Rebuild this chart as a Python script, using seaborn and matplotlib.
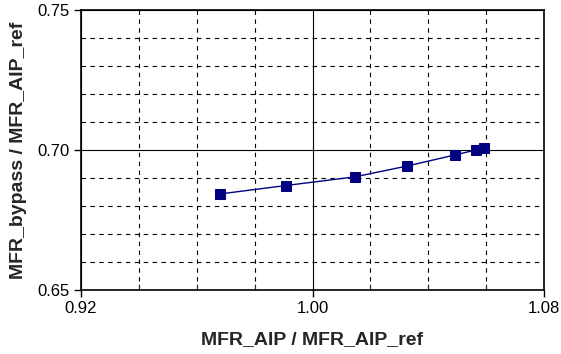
import matplotlib
matplotlib.use("Agg")
import matplotlib.pyplot as plt
import seaborn as sns
import pandas as pd
from matplotlib.ticker import MultipleLocator

x_vals = [0.968, 0.9907, 1.0146, 1.0328, 1.0491, 1.0564, 1.0591]
y_vals = [0.6843, 0.6873, 0.6904, 0.6943, 0.6982, 0.7000, 0.7006]
x_ticks = [0.92, 1.00, 1.08]
y_ticks = [0.65, 0.70, 0.75]

sns.set_style("white")
plt.rcParams['font.family'] = ['Liberation Sans', 'DejaVu Sans']

df = pd.DataFrame({"x": x_vals, "y": y_vals})
fig = plt.figure(figsize=(5.61, 3.54), dpi=100)
ax = fig.add_axes([81/561, 1 - 290/354, 463/561, 280/354])
sns.lineplot(data=df, x="x", y="y", ax=ax, color="#000080", linewidth=1.0,
             marker="s", markersize=7.5, markeredgecolor="#000080", sort=False)

ax.set_xlim(0.92, 1.08)
ax.set_ylim(0.65, 0.75)
ax.set_xticks(x_ticks)
ax.set_xticklabels(["0.92", "1.00", "1.08"])
ax.set_yticks(y_ticks)
ax.set_yticklabels(["0.65", "0.70", "0.75"])
ax.xaxis.set_minor_locator(MultipleLocator(0.02))
ax.yaxis.set_minor_locator(MultipleLocator(0.01))
ax.grid(True, which="major", color="black", linewidth=0.8, linestyle="-")
ax.grid(True, which="minor", color="black", linewidth=0.8, linestyle=(0, (4, 4)))
ax.set_axisbelow(True)
ax.tick_params(which="major", direction="out", length=5, width=1, colors="black",
               labelsize=12, bottom=True, left=True, pad=3)
ax.tick_params(which="minor", direction="in", length=4, width=0.8, bottom=True, left=False)
for s in ax.spines.values():
    s.set_color("black")
    s.set_linewidth(1.2)
ax.set_xlabel("MFR_AIP / MFR_AIP_ref", fontsize=14, fontweight="bold")
ax.set_ylabel("MFR_bypass / MFR_AIP_ref", fontsize=14, fontweight="bold")
ax.xaxis.set_label_coords(0.5, -(340 - 290) / 280, transform=ax.transAxes)
ax.yaxis.set_label_coords(-(81 - 19) / 463, 0.5, transform=ax.transAxes)
ax.xaxis.label.set_va("center")
ax.yaxis.label.set_va("center")
fig.savefig("out.png", dpi=100)
